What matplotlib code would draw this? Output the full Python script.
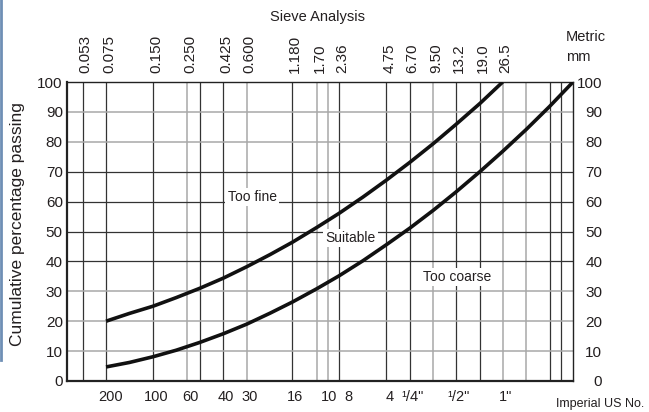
import matplotlib
matplotlib.use("Agg")
import matplotlib.pyplot as plt
import matplotlib.transforms as mtransforms
from matplotlib.lines import Line2D

plt.rcParams['font.family'] = ['Liberation Sans', 'DejaVu Sans']

# ---- data ----
metric_sizes = [0.053, 0.075, 0.150, 0.250, 0.425, 0.600, 1.180, 1.70, 2.36,
                4.75, 6.70, 9.50, 13.2, 19.0, 26.5]
metric_labels = ["0.053", "0.075", "0.150", "0.250", "0.425", "0.600", "1.180",
                 "1.70", "2.36", "4.75", "6.70", "9.50", "13.2", "19.0", "26.5"]
extra_grid_sizes = [0.300, 2.0, 37.5, 53.0, 63.0]
light_grid_sizes = [0.250, 0.600, 1.70, 2.0, 9.50, 26.5, 37.5]

imperial_labels = ["200", "100", "60", "40", "30", "16", "10", "8", "4",
                   "\u00b9/4\"", "\u00b9/2\"", "1\""]
imperial_sizes = [0.075, 0.150, 0.250, 0.425, 0.600, 1.18, 2.0, 2.36, 4.75,
                  6.70, 13.2, 26.5]

y_ticks = [0, 10, 20, 30, 40, 50, 60, 70, 80, 90, 100]
light_y = [10, 20, 30, 80, 90]

fine_x = [0.075, 0.106, 0.15, 0.212, 0.3, 0.425, 0.6, 0.85, 1.18, 1.7, 2.36,
          3.35, 4.75, 6.7, 9.5, 13.2, 19.0, 26.5]
fine_y = [20.0, 22.6, 25.0, 27.9, 31.0, 34.4, 38.2, 42.3, 46.4, 51.4, 56.1,
          61.5, 67.2, 73.1, 79.4, 85.7, 92.9, 100.0]

coarse_x = [0.075, 0.106, 0.15, 0.212, 0.3, 0.425, 0.6, 0.85, 1.18, 1.7, 2.36,
            3.35, 4.75, 6.7, 9.5, 13.2, 19.0, 26.5, 37.5, 53.0, 75.0]
coarse_y = [4.7, 6.2, 8.1, 10.3, 12.9, 15.8, 19.0, 22.7, 26.4, 30.9, 35.2,
            40.2, 45.6, 51.1, 57.1, 63.1, 70.1, 76.8, 84.1, 91.8, 100.0]

x_min, x_max = 0.0421, 75.0

# ---- figure ----
fig = plt.figure(figsize=(6.49, 4.12), dpi=100)
ax = fig.add_axes([67/649, 1-381/412, (573-67)/649, (381-82)/412])
ax.set_xscale('log')
ax.set_xlim(x_min, x_max)
ax.set_ylim(0, 100)

dark = '#333333'
light = '#a8a8a8'
txt = '#231f20'

for s in metric_sizes + extra_grid_sizes:
    c = light if s in light_grid_sizes else dark
    ax.axvline(s, color=c, lw=1.1 if c == light else 0.9, zorder=1)
for yv in y_ticks[1:-1]:
    c = light if yv in light_y else dark
    ax.axhline(yv, color=c, lw=1.1 if c == light else 0.9, zorder=1)

ax.plot(fine_x, fine_y, color='#111111', lw=2.6, solid_capstyle='butt', zorder=3)
ax.plot(coarse_x, coarse_y, color='#111111', lw=2.6, solid_capstyle='butt', zorder=3)

for sp in ax.spines.values():
    sp.set_color('#222222')
    sp.set_linewidth(1.0)
ax.spines['left'].set_linewidth(1.6)
ax.spines['bottom'].set_linewidth(1.6)

ax.xaxis.set_major_locator(matplotlib.ticker.NullLocator())
ax.xaxis.set_minor_locator(matplotlib.ticker.NullLocator())
ax.set_yticks(y_ticks)
ax.tick_params(axis='y', length=0, labelsize=11, colors=txt, pad=3)

ax2 = ax.secondary_yaxis('right')
ax2.set_yticks(y_ticks)
ax2.tick_params(length=0, labelsize=11, colors=txt, pad=21)
for lab in ax2.get_yticklabels():
    lab.set_horizontalalignment('right')
ax2.spines['right'].set_visible(False)

# top metric labels
off_top = mtransforms.ScaledTranslation(3/100, 9/100, fig.dpi_scale_trans)
tr_top = mtransforms.blended_transform_factory(ax.transData, ax.transAxes) + off_top
for s, l in zip(metric_sizes, metric_labels):
    ax.text(s, 1.0, l, transform=tr_top, rotation=90, ha='center', va='bottom',
            fontsize=11, color=txt)

# bottom imperial labels
tr_blend = mtransforms.blended_transform_factory(ax.transData, ax.transAxes)
for s, l in zip(imperial_sizes, imperial_labels):
    dx = 3
    if l == "200":
        dx = 5
    elif l == "8":
        dx = 9
    elif l == "10":
        dx = 1
    off = mtransforms.ScaledTranslation(dx/100, -16/100, fig.dpi_scale_trans)
    ax.text(s, 0.0, l, transform=tr_blend + off, ha='center', va='center',
            fontsize=10.5, color=txt)

fig.text(318/649, 1-17/412, "Sieve Analysis", ha='center', va='center', fontsize=10.5, color=txt)
fig.text(566/649, 1-37/412, "Metric", ha='left', va='center', fontsize=10.5, color=txt)
fig.text(566/649, 1-57/412, "mm", ha='left', va='center', fontsize=10.5, color=txt)
fig.text(600/649, 1-404/412, "Imperial US No.", ha='center', va='center', fontsize=9, color=txt)
fig.text(18/649, 1-224/412, "Cumulative percentage passing", rotation=90, ha='center',
         va='center', fontsize=12.5, color=txt)

box = dict(boxstyle='square,pad=0.15', fc='white', ec='none')
ax.text(0.65, 61.5, "Too fine", ha='center', va='center', fontsize=10, color=txt, bbox=box, zorder=4)
ax.text(2.79, 47.8, "Suitable", ha='center', va='center', fontsize=10, color=txt, bbox=box, zorder=4)
ax.text(13.5, 34.8, "Too coarse", ha='center', va='center', fontsize=10, color=txt, bbox=box, zorder=4)

# page border artifact on the left edge
fig.add_artist(Line2D([1/649, 1/649], [1-360/412, 1.0], transform=fig.transFigure,
                      color='#6f8fb5', lw=2))

fig.savefig('out.png', dpi=100)
